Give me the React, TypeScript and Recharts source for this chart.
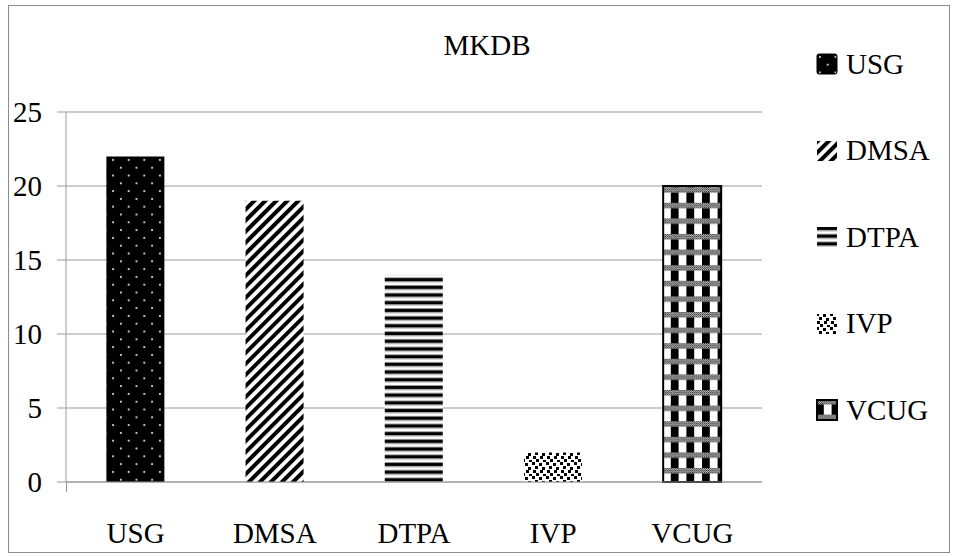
import React from 'react';
import { BarChart, Bar, Cell, XAxis, YAxis, CartesianGrid, Legend } from 'recharts';

const categories = ['USG', 'DMSA', 'DTPA', 'IVP', 'VCUG'];
const counts = [22, 19, 14, 2, 20];
const yTicks = [0, 5, 10, 15, 20, 25];
const title = 'MKDB';

// one hatch pattern per category, in the same order as categories
const fills = ['url(#pUsg)', 'url(#pDmsa)', 'url(#pDtpa)', 'url(#pIvp)', 'url(#pVcug)'];

const data = categories.map((name, i) => ({ name, value: counts[i] }));

const FONT = '"Liberation Serif", "Times New Roman", serif';
const FONT_SIZE = 29;
const LEGEND_W = 141;

const Patterns = () => (
  <defs>
    <pattern id="pUsg" width="15.6" height="15.6" patternUnits="userSpaceOnUse">
      <rect width="15.6" height="15.6" fill="#000" />
      <rect x="3" y="3" width="1.8" height="1.8" fill="#e6e6e6" />
      <rect x="10.8" y="10.8" width="1.8" height="1.8" fill="#e6e6e6" />
    </pattern>
    <pattern id="pDmsa" width="7.8" height="7.8" patternUnits="userSpaceOnUse" patternTransform="rotate(45)">
      <rect width="7.8" height="7.8" fill="#fff" />
      <rect width="4" height="7.8" fill="#000" />
    </pattern>
    <pattern id="pDtpa" width="7.7" height="7.7" patternUnits="userSpaceOnUse">
      <rect width="7.7" height="7.7" fill="#fff" />
      <rect y="0" width="7.7" height="1" fill="#999" />
      <rect y="1" width="7.7" height="3.2" fill="#000" />
      <rect y="4.2" width="7.7" height="1" fill="#999" />
    </pattern>
    <pattern id="pIvp" width="14" height="14" patternUnits="userSpaceOnUse">
      <rect width="14" height="14" fill="#fff" />
      {[[0, 0], [7, 1], [3, 4], [10, 5], [1, 8], [8, 8], [4, 11], [11, 12]].map(([x, y], i) => (
        <rect key={i} x={x} y={y} width="3" height="3" fill="#000" />
      ))}
    </pattern>
    <pattern id="pFine" width="2" height="2" patternUnits="userSpaceOnUse">
      <rect width="2" height="2" fill="#fff" />
      <rect width="1" height="1" fill="#000" />
      <rect x="1" y="1" width="1" height="1" fill="#000" />
    </pattern>
    <pattern id="pVcug" width="15.6" height="15.6" patternUnits="userSpaceOnUse">
      <rect width="15.6" height="15.6" fill="#fff" />
      <rect width="7.8" height="15.6" fill="#000" />
      <rect width="15.6" height="5.5" fill="url(#pFine)" />
    </pattern>
  </defs>
);

const LegendBox = () => (
  <div style={{ fontFamily: FONT, fontSize: FONT_SIZE, color: '#000', width: LEGEND_W }}>
    {categories.map((name, i) => (
      <div key={name} style={{ display: 'flex', alignItems: 'center', height: 86.5 }}>
        <svg width={22} height={22} style={{ marginRight: 8 }}>
          <rect
            x={1}
            y={1}
            width={20}
            height={20}
            rx={i === 0 ? 2 : 0}
            fill={fills[i]}
            stroke={i === 4 || i === 0 ? '#000' : 'none'}
            strokeWidth={i === 4 ? 2 : 1}
          />
        </svg>
        <span>{name}</span>
      </div>
    ))}
  </div>
);

export default function App() {
  return (
    <div style={{ position: 'absolute', left: 0, top: 0, width: 957, height: 556, background: '#fff' }}>
      <div
        style={{
          position: 'absolute',
          left: 8,
          top: 5,
          width: 940,
          height: 546,
          border: '1px solid #8c8c8c',
        }}
      />
      <div
        style={{
          position: 'absolute',
          left: 387,
          width: 200,
          top: 29,
          textAlign: 'center',
          fontFamily: FONT,
          fontSize: FONT_SIZE,
          color: '#000',
        }}
      >
        {title}
      </div>
      <div style={{ position: 'absolute', left: 0, top: 0 }}>
        <BarChart
          width={957}
          height={556}
          data={data}
          margin={{ top: 112, right: 195 - LEGEND_W, bottom: 44, left: 0 }}
          barCategoryGap="29%"
        >
          <Patterns />
          <CartesianGrid horizontal vertical={false} stroke="#9a9a9a" />
          <XAxis
            dataKey="name"
            height={30}
            tickLine={false}
            tickSize={0}
            tickMargin={40}
            axisLine={{ stroke: '#9a9a9a' }}
            tick={{ fill: '#000', fontSize: FONT_SIZE, fontFamily: FONT }}
          />
          <YAxis
            width={66}
            domain={[0, 25]}
            ticks={yTicks}
            tickSize={9}
            tickMargin={15}
            tickLine={{ stroke: '#9a9a9a' }}
            axisLine={{ stroke: '#9a9a9a' }}
            tick={{ fill: '#000', fontSize: FONT_SIZE, fontFamily: FONT }}
          />
          <Legend
            layout="vertical"
            align="right"
            verticalAlign="middle"
            content={() => <LegendBox />}
            wrapperStyle={{ position: 'absolute', left: 816, top: 21, width: LEGEND_W }}
          />
          <Bar dataKey="value" isAnimationActive={false}>
            {data.map((d, i) => (
              <Cell
                key={d.name}
                fill={fills[i]}
                stroke={i === 4 ? '#000' : 'none'}
                strokeWidth={i === 4 ? 2 : 0}
              />
            ))}
          </Bar>
        </BarChart>
      </div>
      {/* the value axis runs a little past the category axis */}
      <div style={{ position: 'absolute', left: 66, top: 482, width: 1, height: 10, background: '#9a9a9a' }} />
    </div>
  );
}
